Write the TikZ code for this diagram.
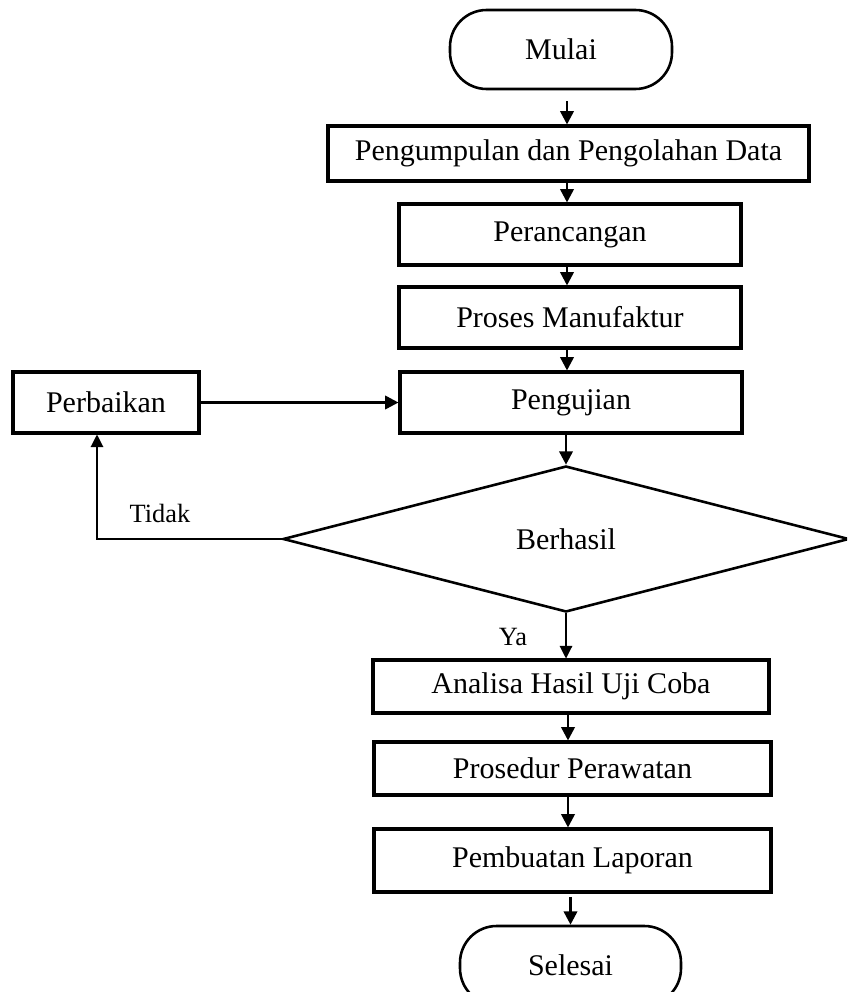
\documentclass[tikz,border=0pt]{standalone}
\usepackage{fontspec}
\setmainfont{Liberation Serif}
\usetikzlibrary{arrows.meta,shapes.geometric}
\newlength\pxl
\setlength\pxl{0.03cm}
\begin{document}
\begin{tikzpicture}[x=0.03cm,y=-0.03cm,
  font=\fontsize{25.6}{30}\selectfont,
  box/.style={draw,line width=2.6pt,rectangle,inner sep=0pt},
  term/.style={draw,line width=2.2pt,rounded corners=1.1cm,inner sep=0pt},
  decision/.style={draw,line width=2.2pt,diamond,inner sep=0pt},
  arr/.style={line width=2.2pt,-{Triangle[length=4mm,width=4mm]}},
  thinarr/.style={line width=1pt,-{Triangle[length=3.8mm,width=3.8mm]}},
  lbl/.style={font=\fontsize{22.5}{26}\selectfont,inner sep=0pt}]
\clip (0,0) rectangle (847,992);
% nodes
\node[term,minimum width=222\pxl,minimum height=79\pxl] (mulai) at (561,49.5) {Mulai};
\node[box,minimum width=481\pxl,minimum height=55\pxl] (peng) at (568.5,153.5) {Pengumpulan dan Pengolahan Data};
\node[box,minimum width=342\pxl,minimum height=61\pxl] (peranc) at (570,234.5) {Perancangan};
\node[box,minimum width=342\pxl,minimum height=61\pxl] (proses) at (570,317.5) {Proses Manufaktur};
\node[box,minimum width=342\pxl,minimum height=61\pxl] (uji) at (571,402.5) {Pengujian};
\node[box,minimum width=186\pxl,minimum height=61\pxl] (perb) at (106,402.5) {Perbaikan};
\node[decision,minimum width=566\pxl,minimum height=146\pxl] (dec) at (566,539) {Berhasil};
\node[box,minimum width=396\pxl,minimum height=53\pxl] (analisa) at (571,686.5) {Analisa Hasil Uji Coba};
\node[box,minimum width=397\pxl,minimum height=53\pxl] (prosedur) at (572.5,768.5) {Prosedur Perawatan};
\node[box,minimum width=397\pxl,minimum height=63\pxl] (laporan) at (572.5,860.5) {Pembuatan Laporan};
\node[term,minimum width=221\pxl,minimum height=79\pxl] (selesai) at (570.5,965.5) {Selesai};
\node[lbl] (tidak) at (160,513) {Tidak};
\node[lbl] (ya) at (513,637) {Ya};
% axes
\coordinate (ax) at (567,0);
\coordinate (bx) at (568,0);
\coordinate (cx) at (97,0);
% connectors
\draw[arr,shorten <=0.33cm] (mulai.south -| ax) -- (peng.north -| ax);
\draw[arr] (peng.south -| ax) -- (peranc.north -| ax);
\draw[arr] (peranc.south -| ax) -- (proses.north -| ax);
\draw[arr] (proses.south -| ax) -- (uji.north -| ax);
\draw[arr] (uji.south -| dec.north) -- (dec.north);
\draw[arr] (perb.east) -- (uji.west);
\draw[thinarr] (dec.south) -- (analisa.north -| dec.south);
\draw[arr] (analisa.south -| bx) -- (prosedur.north -| bx);
\draw[arr] (prosedur.south -| bx) -- (laporan.north -| bx);
\draw[arr,shorten <=0.1cm] (laporan.south -| selesai.north) -- (selesai.north);
\draw[thinarr] (dec.west) -- (dec.west -| cx) -- (perb.south -| cx);
\end{tikzpicture}
\end{document}
